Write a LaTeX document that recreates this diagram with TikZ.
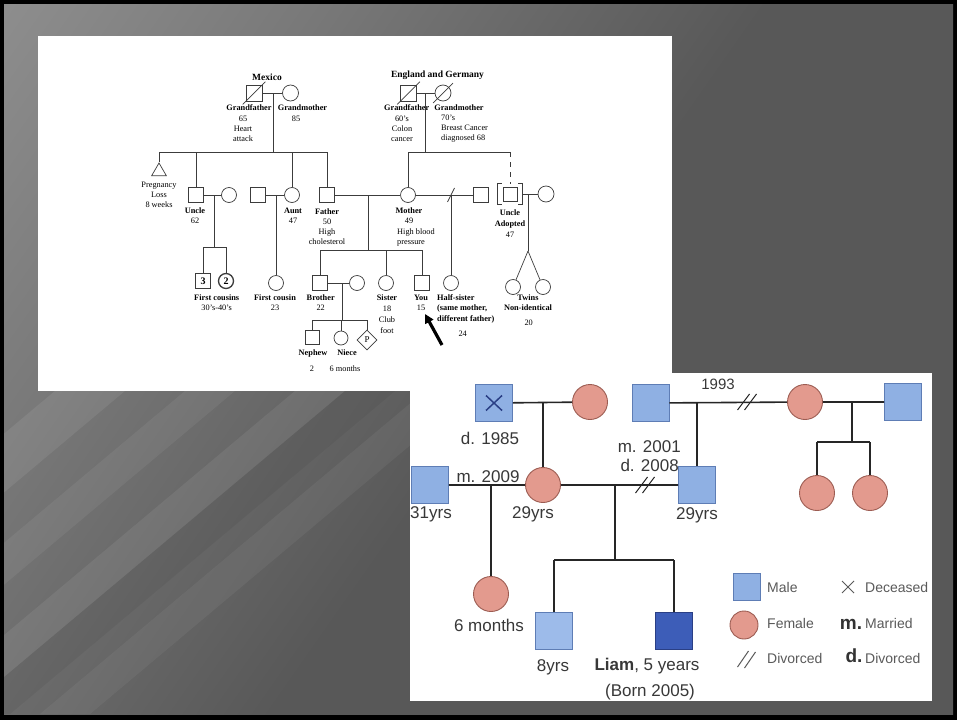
\documentclass[tikz,border=0pt]{standalone}
\usepackage{fontspec}
\setmainfont{Liberation Serif}
\newfontfamily\arialf{Liberation Sans}
\usetikzlibrary{shapes.geometric,arrows.meta,calc}
\definecolor{pline}{HTML}{3C3C3C}
\definecolor{mblue}{HTML}{8FB0E3}
\definecolor{mblueb}{HTML}{5E7DB5}
\definecolor{lblue}{HTML}{9DBBEA}
\definecolor{dblue}{HTML}{3D5DB8}
\definecolor{dblueb}{HTML}{2A3F85}
\definecolor{fsal}{HTML}{E39A8E}
\definecolor{fsalb}{HTML}{9C5C52}
\definecolor{ink}{HTML}{383838}
\definecolor{legink}{HTML}{5A5A5A}
\definecolor{bgl}{HTML}{A2A2A2}
\definecolor{bgm}{HTML}{797979}
\definecolor{bgd}{HTML}{585858}
\pgfdeclarehorizontalshading{slideshade}{100bp}{color(0bp)=(bgl); color(30bp)=(bgm); color(52bp)=(bgd); color(100bp)=(bgd)}
\tikzset{sq/.style={rectangle,draw=pline,fill=white,line width=.7pt,minimum size=15pt,inner sep=0pt},
  ci/.style={circle,draw=pline,fill=white,line width=.7pt,minimum size=15pt,inner sep=0pt},
  bsq/.style={sq,line width=1.3pt,font=\fontsize{10}{10}\selectfont\bfseries},
  bci/.style={ci,line width=1.3pt,font=\fontsize{10}{10}\selectfont\bfseries},
  nil/.style={inner sep=0pt,align=center,font=\fontsize{8.3}{10}\selectfont},
  pl/.style={draw=pline,line width=.7pt}}
\tikzset{msq/.style={rectangle,draw=mblueb,fill=mblue,line width=.9pt,minimum size=37pt,inner sep=0pt},
  fci/.style={circle,draw=fsalb,fill=fsal,line width=.9pt,minimum size=35pt,inner sep=0pt},
  cl/.style={draw=black!85,line width=1.6pt},
  txt/.style={inner sep=0pt,text=ink,font=\arialf\fontsize{17}{20}\selectfont},
  leg/.style={inner sep=0pt,anchor=west,text=legink,font=\arialf\fontsize{14}{16}\selectfont}}

\begin{document}
\begin{tikzpicture}[x=1pt,y=-1pt]
  \useasboundingbox (0,0) rectangle (957,720);
  % slide
  \fill[black] (0,0) rectangle (957,720);
  \begin{scope}
    \clip (4,4) rectangle (953,714);
    \shade[shading=slideshade,shading angle=-35] (4,4) rectangle (953,714);
  \end{scope}
  \begin{scope}
    \clip (4,4) -- (420,4) -- (420,714) -- (4,714) -- cycle;
    \fill[white,opacity=.08] (-330,714) -- (-260,714) -- (586,4) -- (516,4) -- cycle;
    \fill[white,opacity=.06] (-200,714) -- (-150,714) -- (696,4) -- (646,4) -- cycle;
    \fill[white,opacity=.07] (-90,714) -- (-40,714) -- (806,4) -- (756,4) -- cycle;
    \fill[black,opacity=.05] (-40,714) -- (10,714) -- (856,4) -- (806,4) -- cycle;
    \fill[white,opacity=.05] (40,714) -- (90,714) -- (936,4) -- (886,4) -- cycle;
  \end{scope}

  % hand drawn pedigree
  \fill[white] (38,36) rectangle (672,391);
  \node[nil,font=\fontsize{9.5}{11}\selectfont\bfseries] (mex) at (267,77) {Mexico};
  \node[nil,font=\fontsize{9.5}{11}\selectfont\bfseries] (eng) at (437.5,75) {England and Germany};
  \node[sq,minimum size=16pt] (gfa) at (254,93) {};
  \node[ci,minimum size=16pt] (gma) at (290.5,93) {};
  \node[sq,minimum size=16pt] (gfb) at (408.5,93) {};
  \node[ci,minimum size=16pt] (gmb) at (443,93) {};
  \draw[pl] (gfa) -- (gma) (gfb) -- (gmb);
  \draw[pl] ($(gfa.south west)+(-3,3)$) -- ($(gfa.north east)+(3,-3)$);
  \draw[pl] ($(gfb.south west)+(-3,3)$) -- ($(gfb.north east)+(3,-3)$);
  \draw[pl] ($(gmb.south west)+(-4,4)$) -- ($(gmb.north east)+(4,-4)$);
  \node[nil] at (249,108) {\textbf{Grandfather}};
  \node[nil] at (243,129) {65\\Heart\\attack};
  \node[nil] at (302.5,108) {\textbf{Grandmother}};
  \node[nil] at (296,119) {85};
  \node[nil] at (406.7,108) {\textbf{Grandfather}};
  \node[nil] at (402,129) {60's\\Colon\\cancer};
  \node[nil] at (459,108) {\textbf{Grandmother}};
  \node[nil,align=left,anchor=west] at (441,129) {70's\\Breast Cancer\\diagnosed 68};

  \coordinate (ma) at (273,93);
  \coordinate (sa) at (273,152);
  \coordinate (ka1) at (159,152);
  \coordinate (ka2) at (196,152);
  \coordinate (ka3) at (292,152);
  \coordinate (ka4) at (327,152);
  \coordinate (mb) at (425,93);
  \coordinate (sb) at (425,152);
  \coordinate (kb1) at (408,152);
  \coordinate (kb2) at (510,152);
  \draw[pl] (ma) -- (sa) (ka1) -- (ka4) (mb) -- (sb) (kb1) -- (kb2);

  \node[regular polygon,regular polygon sides=3,draw=pline,line width=.7pt,minimum size=17pt,inner sep=0pt] (loss) at (159,171.5) {};
  \node[sq] (unc) at (196,195) {};
  \node[ci] (uncw) at (229,195) {};
  \node[sq] (auh) at (258,195) {};
  \node[ci] (aunt) at (292,195) {};
  \node[sq] (fa) at (327,195) {};
  \node[ci] (mo) at (408,195) {};
  \node[sq] (hf) at (481,195) {};
  \node[sq,minimum size=14pt] (ua) at (510,194) {};
  \node[inner sep=0pt,minimum width=24pt,minimum height=20pt] (ub) at (510,194) {};
  \node[ci,minimum size=16pt] (uaw) at (546,194) {};
  \draw[pl] ($(ub.north west)+(4,0)$) -- (ub.north west) -- (ub.south west) -- ++(4,0);
  \draw[pl] ($(ub.north east)+(-4,0)$) -- (ub.north east) -- (ub.south east) -- ++(-4,0);
  \draw[pl] (ka1) edge (loss) (ka2) edge (unc) (ka3) edge (aunt) (ka4) edge (fa) (kb1) edge (mo);
  \draw[pl,dash pattern=on 5pt off 5pt] (kb2) -- (ub);
  \draw[pl] (unc) -- (uncw) (auh) -- (aunt) (fa) -- (mo) (mo) -- (hf) (ub) -- (uaw);
  \coordinate (dv) at (451,195);
  \draw[pl] ($(dv)+(-3.5,7)$) -- ($(dv)+(3.5,-7)$);

  \node[nil] at (159,195) {Pregnancy\\Loss\\8 weeks};
  \node[nil] at (195,216) {\textbf{Uncle}\\62};
  \node[nil] at (293,216) {\textbf{Aunt}\\47};
  \node[nil] at (327,226.5) {\textbf{Father}\\50\\High\\cholesterol};
  \node[nil] at (409,216) {\textbf{Mother}\\49};
  \node[nil,align=left,anchor=west] at (397,237.7) {High blood\\pressure};
  \node[nil,font=\fontsize{8.3}{11}\selectfont] at (510,224) {\textbf{Uncle}\\\textbf{Adopted}\\47};

  \coordinate (mc) at (214,195);
  \coordinate (sc) at (214,247);
  \coordinate (kc1) at (203,247);
  \coordinate (kc2) at (226,247);
  \coordinate (md) at (276,195);
  \coordinate (me) at (368,195);
  \coordinate (se) at (368,250);
  \coordinate (ke1) at (320,250);
  \coordinate (ke2) at (386,250);
  \coordinate (ke3) at (422,250);
  \coordinate (mf) at (528,194);
  \coordinate (tf) at (528,251);
  \node[bsq] (c3) at (203,281) {3};
  \node[bci] (c2) at (226,281) {2};
  \node[ci] (fc) at (276,283) {};
  \node[sq] (bro) at (320,283) {};
  \node[ci] (brow) at (357,283) {};
  \node[ci] (sis) at (386,283) {};
  \node[sq] (you) at (422,283) {};
  \node[ci] (hs) at (451,283) {};
  \node[ci] (tw1) at (513,287) {};
  \node[ci] (tw2) at (543,287) {};
  \draw[pl] (mc) -- (sc) (kc1) -- (kc2) (kc1) edge (c3) (kc2) edge (c2) (md) edge (fc);
  \draw[pl] (me) -- (se) (ke1) -- (ke3) (ke1) edge (bro) (ke2) edge (sis) (ke3) edge (you);
  \draw[pl] (dv) edge (hs) (mf) -- (tf) (tf) edge (tw1) (tf) edge (tw2);
  \draw[pl] (bro) -- (brow);

  \coordinate (mg) at (342,283);
  \coordinate (sg) at (342,320);
  \coordinate (kg1) at (312,320);
  \coordinate (kg2) at (341,320);
  \coordinate (kg3) at (367,320);
  \node[sq,minimum size=14pt] (nep) at (312,337) {};
  \node[ci,minimum size=14pt] (nie) at (341,338) {};
  \node[diamond,draw=pline,fill=white,line width=.7pt,minimum size=20pt,inner sep=0pt,font=\fontsize{9}{9}\selectfont] (pd) at (367,340) {P};
  \draw[pl] (mg) -- (sg) (kg1) -- (kg3) (kg1) edge (nep) (kg2) edge (nie) (kg3) edge (pd);

  \node[nil] at (216.7,303) {\textbf{First cousins}\\30's-40's};
  \node[nil] at (275,303) {\textbf{First cousin}\\23};
  \node[nil] at (320.7,303) {\textbf{Brother}\\22};
  \node[nil,font=\fontsize{8.3}{11}\selectfont] at (387,314.5) {\textbf{Sister}\\18\\Club\\foot};
  \node[nil] at (421,303) {\textbf{You}\\15};
  \node[nil,align=left,anchor=west,font=\fontsize{8.3}{10.5}\selectfont\bfseries] at (437,308.5) {Half-sister\\(same mother,\\different father)};
  \node[nil] at (462.7,334) {24};
  \node[nil] at (528,303) {\textbf{Twins}\\\textbf{Non-identical}};
  \node[nil] at (528.7,323) {20};
  \node[nil] at (313,353) {\textbf{Nephew}};
  \node[nil] at (347,353) {\textbf{Niece}};
  \node[nil] at (312,369) {2};
  \node[nil] at (345,369) {6 months};
  \coordinate (at) at (442,345);
  \coordinate (ah) at (425,314);
  \draw[black,line width=3.2pt,-{Triangle[length=9pt,width=9pt]}] (at) -- (ah);

  % coloured pedigree
  \begin{scope}
    \clip (410,373) rectangle (932,701);
    \fill[white] (410,373) rectangle (932,701);
    \node[msq] (dgf) at (494,403) {};
    \draw[draw=dblueb,line width=1.5pt] ($(dgf.center)+(-8,-7.5)$) -- ($(dgf.center)+(8,7.5)$)
      ($(dgf.center)+(-8,7.5)$) -- ($(dgf.center)+(8,-7.5)$);
    \node[fci] (dgm) at (590,402) {};
    \node[msq] (h93) at (650.5,403) {};
    \node[fci] (ex) at (805,402) {};
    \node[msq] (rsq) at (903,402) {};
    \node[msq] (h31) at (430,485) {};
    \node[fci] (mom) at (543,485) {};
    \node[msq] (dad) at (697,485) {};
    \node[fci] (d1) at (817,493) {};
    \node[fci] (d2) at (870,493) {};
    \node[fci] (baby) at (491,594) {};
    \node[msq,fill=lblue] (k8) at (554,631) {};
    \node[msq,fill=dblue,draw=dblueb] (liam) at (674,631) {};

    \coordinate (mh) at (543,402);
    \coordinate (mk) at (697,402);
    \coordinate (ml) at (852,402);
    \coordinate (sl) at (852,442);
    \coordinate (kl1) at (817,442);
    \coordinate (kl2) at (870,442);
    \coordinate (mi) at (491,485);
    \coordinate (mj) at (615,485);
    \coordinate (sj) at (615,560);
    \coordinate (kj1) at (554,560);
    \coordinate (kj2) at (674,560);
    \draw[cl] (dgf) -- (dgm) (h93) -- (ex) (ex) -- (rsq) (h31) -- (mom) (mom) -- (dad);
    \draw[cl] (mh) edge (mom) (mk) edge (dad) (ml) -- (sl) (kl1) -- (kl2) (kl1) edge (d1) (kl2) edge (d2);
    \draw[cl] (mi) edge (baby) (mj) -- (sj) (kj1) -- (kj2) (kj1) edge (k8) (kj2) edge (liam);
    \coordinate (dva) at (747,402);
    \coordinate (dvb) at (645,485);
    \foreach \c in {dva,dvb}
      \draw[draw=black!85,line width=1pt] ($(\c)+(-9.5,8)$) -- ($(\c)+(2.5,-8)$) ($(\c)+(-2.5,8)$) -- ($(\c)+(9.5,-8)$);

    \node[txt] at (490,438) {d. 1985};
    \node[txt,font=\arialf\fontsize{15}{18}\selectfont] at (718,384) {1993};
    \node[txt,anchor=east] at (681,447) {m. 2001};
    \node[txt,anchor=east] at (679,465) {d. 2008};
    \node[txt] at (488,477) {m. 2009};
    \node[txt] at (431,514) {31yrs};
    \node[txt] at (533,514) {29yrs};
    \node[txt] at (697,515) {29yrs};
    \node[txt] at (489,625) {6 months};
    \node[txt] at (553,667) {8yrs};
    \node[txt] at (647,666) {\textbf{Liam}, 5 years};
    \node[txt] at (650,692) {(Born 2005)};

    % key
    \node[msq,minimum size=27pt] (lm) at (747,587) {};
    \node[fci,minimum size=28pt] (lf) at (744,625) {};
    \coordinate (lx) at (848,587);
    \coordinate (ld) at (747.5,659);
    \draw[draw=legink,line width=1pt] ($(lx)+(-6,-6)$) -- ($(lx)+(6,6)$) ($(lx)+(-6,6)$) -- ($(lx)+(6,-6)$);
    \draw[draw=legink,line width=1pt] ($(ld)+(-10,8)$) -- ($(ld)+(1,-8)$) ($(ld)+(-3,9)$) -- ($(ld)+(8,-7)$);
    \node[leg] at (767,587) {Male};
    \node[leg] at (767,623) {Female};
    \node[leg] at (767,658) {Divorced};
    \node[leg] at (865,587) {Deceased};
    \node[leg] at (865,623) {Married};
    \node[leg] at (865,658) {Divorced};
    \node[txt,text=black!80,font=\arialf\fontsize{19}{20}\selectfont\bfseries] at (851,624) {m.};
    \node[txt,text=black!80,font=\arialf\fontsize{19}{20}\selectfont\bfseries] at (854,656) {d.};
  \end{scope}
\end{tikzpicture}
\end{document}
